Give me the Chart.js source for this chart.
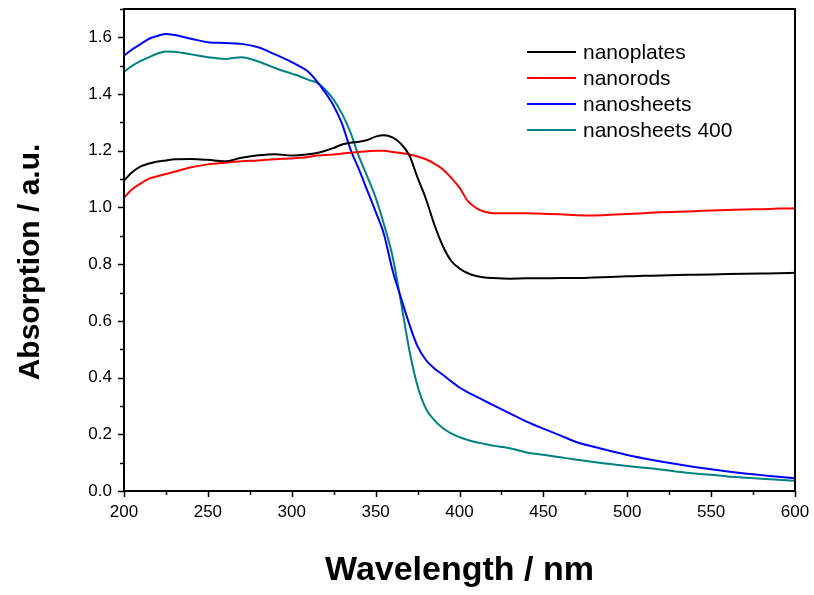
<!DOCTYPE html>
<html>
<head>
<meta charset="utf-8">
<script src="https://cdn.jsdelivr.net/npm/chart.js@4.4.1/dist/chart.umd.min.js"></script>
<style>
  html, body { margin: 0; padding: 0; background: #fff; }
  #c { display: block; }
</style>
</head>
<body>
<canvas id="c" width="814" height="595"></canvas>
<script>
// ---- data ----
const wavelengths = [200,205,210,215,220,225,230,240,250,260,270,280,290,300,305,310,315,320,325,330,335,340,345,350,355,360,365,370,375,380,385,390,395,400,405,410,415,420,430,440,450,460,470,480,490,500,510,520,530,540,550,560,570,580,590,600];

const nanoplates = [1.095,1.125,1.145,1.155,1.162,1.166,1.170,1.171,1.168,1.163,1.175,1.184,1.188,1.183,1.185,1.188,1.192,1.200,1.210,1.222,1.228,1.232,1.238,1.250,1.255,1.247,1.225,1.185,1.105,1.030,0.940,0.865,0.812,0.785,0.768,0.758,0.753,0.751,0.749,0.750,0.750,0.751,0.751,0.753,0.755,0.757,0.759,0.760,0.762,0.763,0.764,0.765,0.766,0.767,0.768,0.770];

const nanorods = [1.035,1.065,1.085,1.102,1.110,1.118,1.126,1.142,1.152,1.158,1.163,1.166,1.170,1.173,1.175,1.178,1.183,1.185,1.187,1.190,1.193,1.196,1.198,1.200,1.200,1.196,1.192,1.187,1.180,1.170,1.155,1.135,1.105,1.070,1.022,0.998,0.985,0.980,0.980,0.980,0.978,0.976,0.973,0.972,0.974,0.977,0.980,0.983,0.985,0.987,0.989,0.991,0.993,0.994,0.996,0.997];

const nanosheets = [1.535,1.558,1.577,1.595,1.605,1.612,1.608,1.595,1.583,1.580,1.577,1.565,1.540,1.513,1.497,1.478,1.445,1.405,1.358,1.295,1.205,1.135,1.060,0.985,0.905,0.780,0.683,0.590,0.510,0.462,0.432,0.410,0.387,0.365,0.348,0.333,0.318,0.303,0.274,0.245,0.220,0.196,0.172,0.156,0.141,0.127,0.115,0.104,0.094,0.085,0.077,0.069,0.062,0.056,0.050,0.045];

const nanosheets400 = [1.478,1.500,1.517,1.530,1.543,1.550,1.549,1.540,1.530,1.524,1.530,1.515,1.492,1.472,1.462,1.450,1.440,1.415,1.380,1.330,1.265,1.180,1.110,1.035,0.940,0.830,0.670,0.500,0.370,0.290,0.250,0.222,0.203,0.190,0.180,0.172,0.166,0.160,0.151,0.136,0.128,0.119,0.110,0.102,0.095,0.088,0.082,0.076,0.068,0.062,0.057,0.051,0.047,0.043,0.040,0.036];

const seriesNames = ['nanoplates','nanorods','nanosheets','nanosheets 400'];
const seriesColors = ['#000000','#ff0000','#0000ff','#008080'];
const xTitle = 'Wavelength / nm';
const yTitle = 'Absorption / a.u.';

// ---- build chart ----
const FONT = '"Liberation Sans", Arial, sans-serif';
const allSeries = [nanoplates, nanorods, nanosheets, nanosheets400];
const datasets = allSeries.map((vals, k) => ({
  label: seriesNames[k],
  data: wavelengths.map((w, i) => ({x: w, y: vals[i]})),
  borderColor: seriesColors[k],
  backgroundColor: seriesColors[k],
  borderWidth: 2,
  pointRadius: 0,
  fill: false,
  cubicInterpolationMode: 'monotone'
}));

function zeroPad(scale) {
  scale.paddingTop = 0; scale.paddingBottom = 0;
  scale.paddingLeft = 0; scale.paddingRight = 0;
}

const framePlugin = {
  id: 'frame',
  afterDraw(chart) {
    const {ctx, chartArea: a, scales: {x, y}} = chart;
    ctx.save();
    ctx.strokeStyle = '#000';
    ctx.lineWidth = 2;
    ctx.strokeRect(a.left, a.top, a.right - a.left, a.bottom - a.top);
    ctx.lineWidth = 1.5;
    ctx.beginPath();
    for (let v = 200; v <= 600; v += 25) {
      const px = Math.round(x.getPixelForValue(v)) + 0.5;
      const len = (v % 50 === 0) ? 6 : 4;
      ctx.moveTo(px, a.bottom);
      ctx.lineTo(px, a.bottom + len);
    }
    for (let k = 0; k <= 17; k++) {
      const py = Math.round(y.getPixelForValue(k / 10)) + 0.5;
      const len = (k % 2 === 0) ? 6 : 4;
      ctx.moveTo(a.left, py);
      ctx.lineTo(a.left - len, py);
    }
    ctx.stroke();
    // y axis title
    ctx.save();
    ctx.translate(31, 262);
    ctx.rotate(-Math.PI / 2);
    ctx.font = 'bold 30px ' + FONT;
    ctx.fillStyle = '#000';
    ctx.textAlign = 'center';
    ctx.textBaseline = 'middle';
    ctx.fillText(yTitle, 0, 0);
    ctx.restore();
    // legend
    ctx.font = '21px ' + FONT;
    ctx.textBaseline = 'middle';
    ctx.textAlign = 'left';
    chart.data.datasets.forEach((ds, i) => {
      const cy = 52 + i * 26;
      ctx.strokeStyle = ds.borderColor;
      ctx.lineWidth = 2;
      ctx.beginPath();
      ctx.moveTo(527, cy);
      ctx.lineTo(576, cy);
      ctx.stroke();
      ctx.fillStyle = '#000';
      ctx.fillText(ds.label, 583, cy + 1);
    });
    ctx.restore();
  }
};

new Chart(document.getElementById('c'), {
  type: 'line',
  data: { datasets },
  options: {
    responsive: false,
    animation: false,
    devicePixelRatio: 1,
    layout: { padding: { top: 9, right: 19, bottom: 0, left: 0 } },
    plugins: { legend: { display: false }, tooltip: { enabled: false } },
    scales: {
      x: {
        type: 'linear',
        min: 200, max: 600,
        afterFit(scale) { scale.height = 104; zeroPad(scale); },
        ticks: {
          stepSize: 50,
          padding: 11,
          color: '#000',
          font: { family: FONT, size: 17 },
          maxRotation: 0
        },
        grid: { drawOnChartArea: false, drawTicks: false },
        border: { display: true, color: '#000', width: 2 },
        title: {
          display: true,
          text: xTitle,
          color: '#000',
          font: { family: FONT, size: 34, weight: 'bold' },
          padding: { top: 0, bottom: 4 }
        }
      },
      y: {
        type: 'linear',
        min: 0, max: 1.7,
        afterFit(scale) { scale.width = 124; zeroPad(scale); },
        ticks: {
          stepSize: 0.2,
          includeBounds: false,
          padding: 12,
          color: '#000',
          font: { family: FONT, size: 17 },
          callback: (v) => Number(v).toFixed(1)
        },
        grid: { drawOnChartArea: false, drawTicks: false },
        border: { display: true, color: '#000', width: 2 },
        title: { display: false, text: yTitle }
      }
    }
  },
  plugins: [framePlugin]
});
</script>
</body>
</html>
